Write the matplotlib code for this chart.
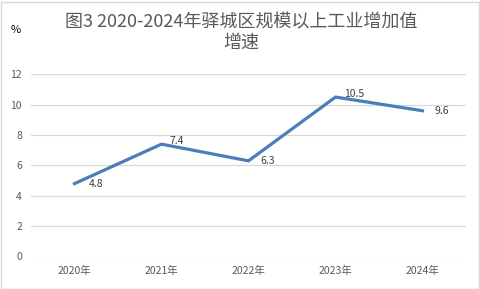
import matplotlib
matplotlib.use("Agg")
import matplotlib.pyplot as plt
from matplotlib.patches import Rectangle

plt.rcParams['font.family'] = ['Noto Sans CJK SC', 'DejaVu Sans']

categories = ['2020年', '2021年', '2022年', '2023年', '2024年']
values = [4.8, 7.4, 6.3, 10.5, 9.6]
yticks = [0, 2, 4, 6, 8, 10, 12]
label_offsets = [(10, 0), (5.8, 2.6), (8.6, 0), (6.5, 2.2), (8.6, 0)]

W, H = 481, 289
fig = plt.figure(figsize=(W/100, H/100), dpi=100)
ax = fig.add_axes([31/W, 1-256.5/H, (466-31)/W, (256.5-74.3)/H])

x = list(range(len(categories)))
ax.plot(x, values, color='#4A7EBB', lw=2.3, solid_joinstyle='round', zorder=3)
for xi, v, (dx, dy) in zip(x, values, label_offsets):
    ax.annotate(f'{v}', (xi, v), xytext=(dx, dy), textcoords='offset points',
                fontsize=7.5, color='#404040', ha='left', va='center')

ax.set_xlim(-0.5, 4.5)
ax.set_ylim(0, 12)
ax.set_yticks(yticks)
ax.set_xticks(x)
ax.set_xticklabels(categories)
ax.grid(axis='y', color='#D9D9D9', lw=0.9)
ax.set_axisbelow(True)
for s in ax.spines.values():
    s.set_visible(False)
ax.tick_params(length=0, labelsize=7.5, labelcolor='#595959')
ax.tick_params(axis='y', pad=6.5)
ax.tick_params(axis='x', pad=7)

fig.text(241/W, 1-22/H, '图3 2020-2024年驿城区规模以上工业增加值', ha='center', va='center',
         fontsize=13, color='#595959')
fig.text(241/W, 1-43/H, '增速', ha='center', va='center', fontsize=13, color='#595959')
fig.text(16/W, 1-30/H, '%', ha='center', va='center', fontsize=8, color='#000000')

fig.patches.append(Rectangle((0.5/W, 0.5/H), (W-2)/W, (H-2)/H, transform=fig.transFigure,
                             fill=False, edgecolor='#D9D9D9', lw=1))

fig.savefig('out.png', dpi=100)
